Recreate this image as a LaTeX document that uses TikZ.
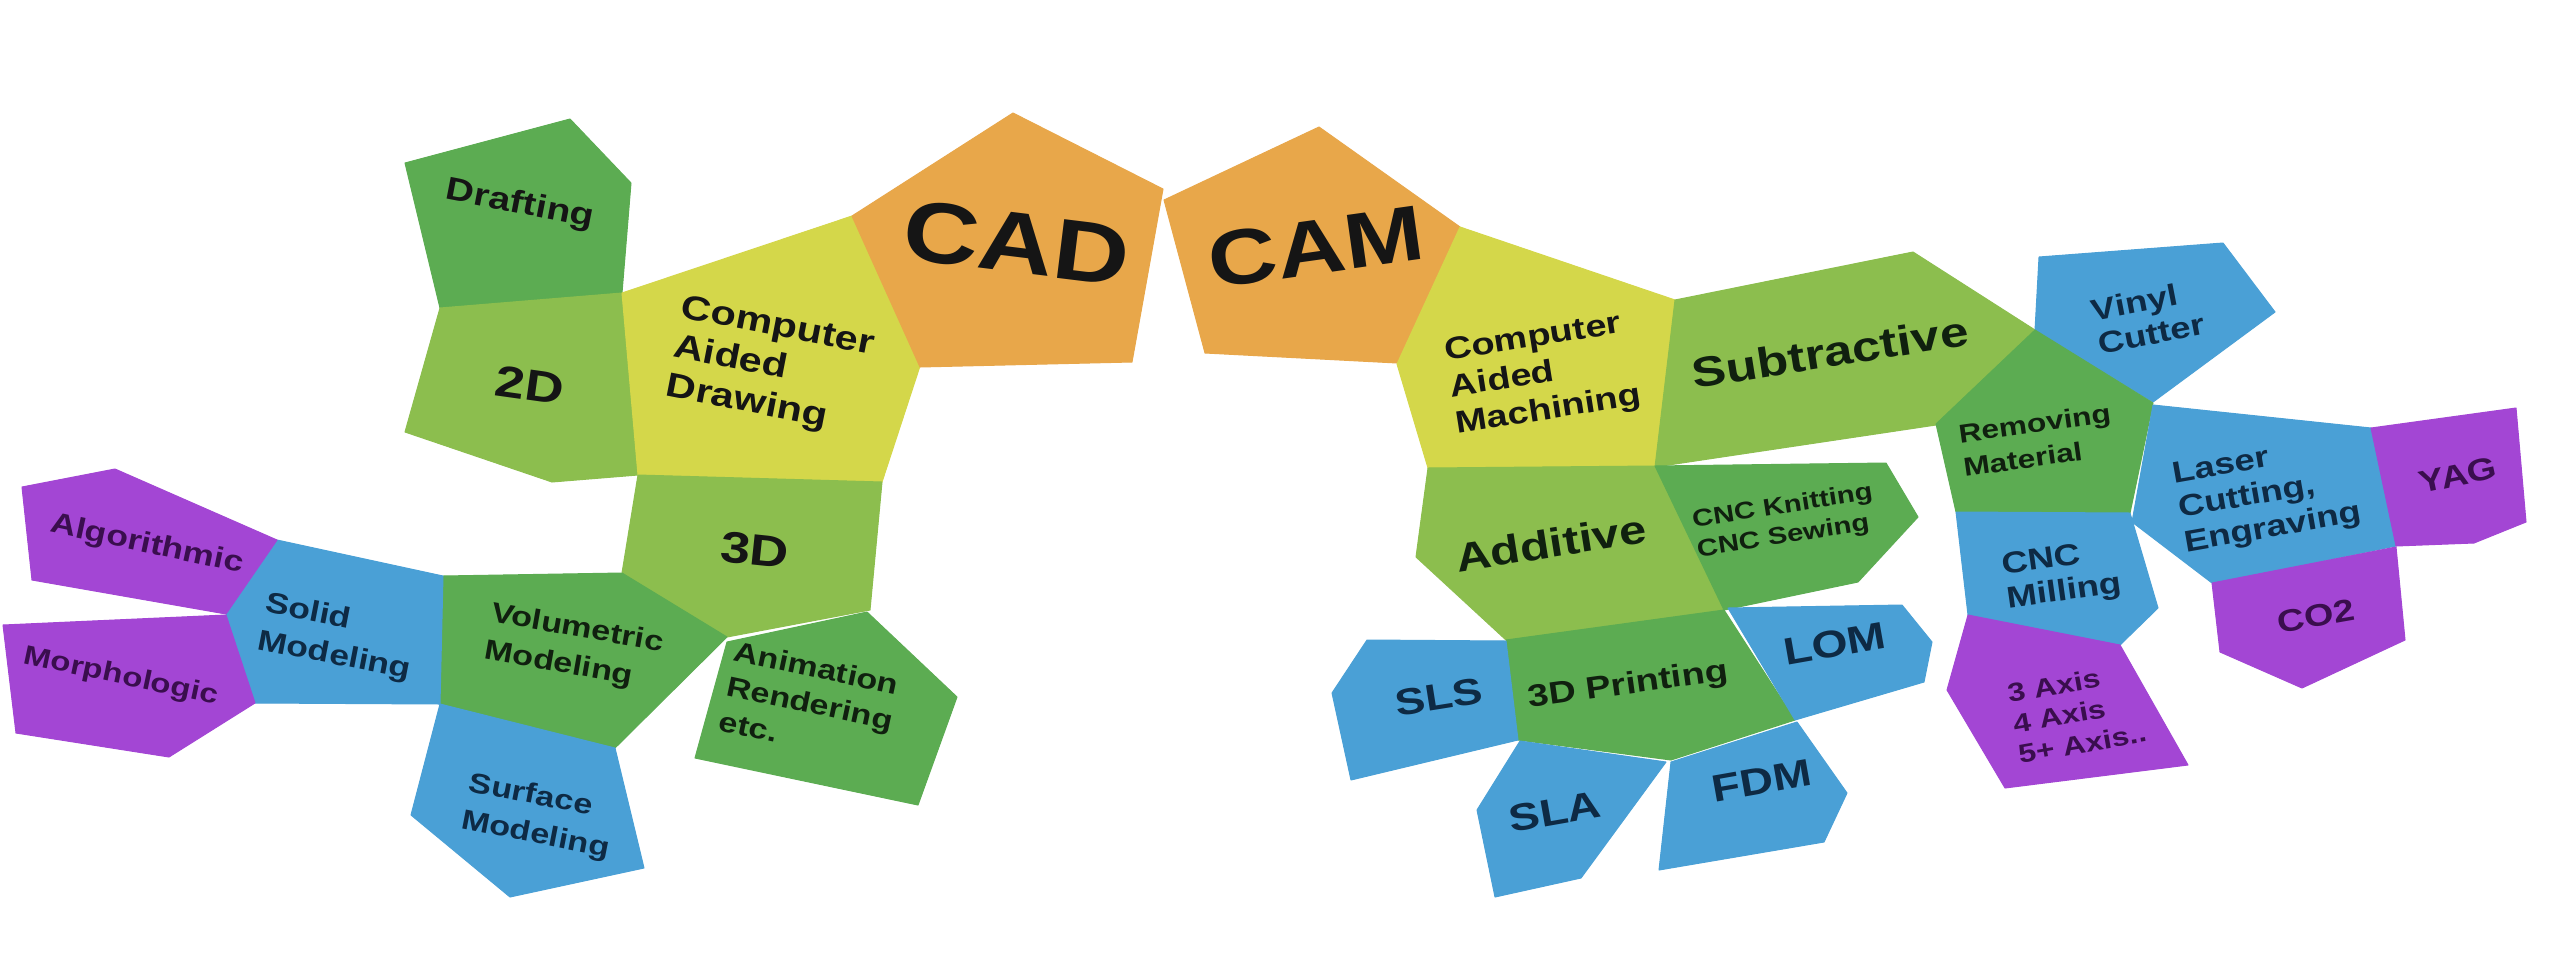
\documentclass[tikz,border=0pt]{standalone}
\usepackage{fontspec}
\setmainfont{Liberation Sans}[FakeStretch=1.22]
\definecolor{orng}{HTML}{E8A74A}
\definecolor{yelw}{HTML}{D4D74A}
\definecolor{lgrn}{HTML}{8CBE4E}
\definecolor{dgrn}{HTML}{5CAC52}
\definecolor{blu}{HTML}{4AA0D6}
\definecolor{purp}{HTML}{A346D4}
\definecolor{ink}{HTML}{151515}
\definecolor{bink}{HTML}{0E2A44}
\definecolor{pink}{HTML}{3A0E4E}
\definecolor{gink}{HTML}{10200F}
\begin{document}
\begin{tikzpicture}[x=1pt,y=-1pt,
  pg/.style={fill=#1, draw=#1, line width=1pt, line join=round},
  txt/.style={inner sep=0pt, text=ink, align=left},
  sz/.style 2 args={font={\fontsize{#1}{#2}\selectfont\bfseries}}]
\useasboundingbox (0,0) rectangle (2550,972);
\fill[white] (0,0) rectangle (2550,972);
% ---------------- CAD side ----------------
\draw[pg=dgrn] (405,163) -- (570,119) -- (631,183) -- (622,293) -- (440,308) -- cycle;
\draw[pg=lgrn] (440,308) -- (622,293) -- (638,475) -- (552,482) -- (405,432) -- cycle;
\draw[pg=yelw] (622,293) -- (852,216) -- (920,366) -- (882,482) -- (638,475) -- cycle;
\draw[pg=orng] (852,216) -- (1013,113) -- (1163,189) -- (1132,362) -- (920,367) -- cycle;
\draw[pg=lgrn] (638,475) -- (882,482) -- (870,610) -- (727,637) -- (622,573) -- cycle;
\draw[pg=dgrn] (443,576) -- (622,573) -- (727,637) -- (615,748) -- (440,704) -- cycle;
\draw[pg=blu] (277,540) -- (443,576) -- (440,704) -- (255,703) -- (226,615) -- cycle;
\draw[pg=purp] (22,487) -- (115,469) -- (277,540) -- (226,614) -- (32,580) -- cycle;
\draw[pg=purp] (3,625) -- (226,615) -- (255,703) -- (169,757) -- (16,733) -- cycle;
\draw[pg=blu] (440,704) -- (615,748) -- (644,868) -- (510,897) -- (411,815) -- cycle;
\draw[pg=dgrn] (727,642) -- (867,612) -- (957,697) -- (918,805) -- (695,758) -- cycle;
% ---------------- CAM side ----------------
\draw[pg=orng] (1164,200) -- (1319,127) -- (1460,227) -- (1397,363) -- (1205,353) -- cycle;
\draw[pg=yelw] (1460,227) -- (1675,300) -- (1655,467) -- (1428,468) -- (1397,364) -- cycle;
\draw[pg=lgrn] (1675,300) -- (1913,252) -- (2035,330) -- (1936,425) -- (1655,467) -- cycle;
\draw[pg=blu] (2039,257) -- (2223,243) -- (2275,312) -- (2153,402) -- (2035,330) -- cycle;
\draw[pg=dgrn] (2035,330) -- (2153,403) -- (2130,513) -- (1956,512) -- (1936,424) -- cycle;
\draw[pg=blu] (2153,405) -- (2371,428) -- (2396,546) -- (2212,583) -- (2132,522) -- cycle;
\draw[pg=purp] (2371,428) -- (2516,408) -- (2526,522) -- (2474,543) -- (2396,546) -- cycle;
\draw[pg=purp] (2212,583) -- (2396,547) -- (2405,640) -- (2302,688) -- (2220,652) -- cycle;
\draw[pg=blu] (1956,512) -- (2130,513) -- (2158,608) -- (2120,645) -- (1968,615) -- cycle;
\draw[pg=purp] (1968,615) -- (2120,645) -- (2188,765) -- (2005,788) -- (1947,690) -- cycle;
\draw[pg=lgrn] (1428,468) -- (1655,466) -- (1724,610) -- (1506,640) -- (1416,557) -- cycle;
\draw[pg=dgrn] (1655,466) -- (1886,463) -- (1918,517) -- (1858,582) -- (1724,610) -- cycle;
\draw[pg=dgrn] (1506,640) -- (1724,610) -- (1795,720) -- (1671,760) -- (1518,740) -- cycle;
\draw[pg=blu] (1367,640) -- (1506,641) -- (1518,740) -- (1351,780) -- (1332,693) -- cycle;
\draw[pg=blu] (1520,741) -- (1666,762) -- (1581,878) -- (1495,897) -- (1477,810) -- cycle;
\draw[pg=blu] (1671,762) -- (1797,722) -- (1847,793) -- (1824,842) -- (1659,870) -- cycle;
\draw[pg=blu] (1728,608) -- (1902,605) -- (1932,642) -- (1924,682) -- (1795,720) -- cycle;
% ---------------- labels, CAD side ----------------
\node[txt, sz={32}{38}, rotate=-11] (tdraft) at (520,205) {Drafting};
\node[txt, sz={44}{50}, rotate=-8] (t2d) at (530,385) {2D};
\node[txt, sz={34}{40}, rotate=-11] (tcadraw) at (770,367) {Computer\\Aided\\Drawing};
\node[txt, sz={86}{96}, rotate=-7] (tcad) at (1017,243) {CAD};
\node[txt, sz={44}{50}, rotate=-6] (t3d) at (755,550) {3D};
\node[txt, sz={29}{36}, rotate=-12, text=pink] (talgo) at (147,545) {Algorithmic};
\node[txt, sz={27}{34}, rotate=-12, text=pink] (tmorph) at (121,677) {Morphologic};
\node[txt, sz={29}{38}, rotate=-11, text=bink] (tsolid) at (338,638) {Solid\\Modeling};
\node[txt, sz={28}{38}, rotate=-10, text=gink] (tvol) at (574,648) {Volumetric\\Modeling};
\node[txt, sz={28}{38}, rotate=-11, text=bink] (tsurf) at (539,817) {Surface\\Modeling};
\node[txt, sz={28}{36}, rotate=-12, text=gink] (tanim) at (810,703) {Animation\\Rendering\\etc.};
% ---------------- labels, CAM side ----------------
\node[txt, sz={78}{90}, rotate=8] (tcam) at (1316,247) {CAM};
\node[txt, sz={31}{37}, rotate=9] (tcamach) at (1543,375) {Computer\\Aided\\Machining};
\node[txt, sz={42}{48}, rotate=9, text=gink] (tsub) at (1830,352) {Subtractive};
\node[txt, sz={40}{46}, rotate=9, text=gink] (tadd) at (1551,543) {Additive};
\node[txt, sz={24}{30}, rotate=9, text=gink] (tknit) at (1785,522) {CNC Knitting\\CNC Sewing};
\node[txt, sz={31}{36}, rotate=8, text=gink] (t3dp) at (1628,686) {3D Printing};
\node[txt, sz={37}{42}, rotate=9, text=bink] (tsls) at (1439,697) {SLS};
\node[txt, sz={38}{42}, rotate=10, text=bink] (tlom) at (1835,644) {LOM};
\node[txt, sz={38}{42}, rotate=10, text=bink] (tsla) at (1555,812) {SLA};
\node[txt, sz={38}{42}, rotate=10, text=bink] (tfdm) at (1762,781) {FDM};
\node[txt, sz={30}{34}, rotate=11, text=bink] (tvinyl) at (2148,317) {Vinyl\\Cutter};
\node[txt, sz={26}{34}, rotate=8, text=gink] (trem) at (2037,440) {Removing\\Material};
\node[txt, sz={30}{35}, rotate=10, text=bink] (tlaser) at (2267,495) {Laser\\Cutting,\\Engraving};
\node[txt, sz={31}{36}, rotate=12, text=pink] (tyag) at (2458,475) {YAG};
\node[txt, sz={30}{34}, rotate=8, text=bink] (tmill) at (2062,576) {CNC\\Milling};
\node[txt, sz={26}{31}, rotate=10, text=pink] (taxis) at (2077,713) {3 Axis\\4 Axis\\5+ Axis..};
\node[txt, sz={31}{36}, rotate=10, text=pink] (tco2) at (2316,616) {CO2};
\end{tikzpicture}
\end{document}
